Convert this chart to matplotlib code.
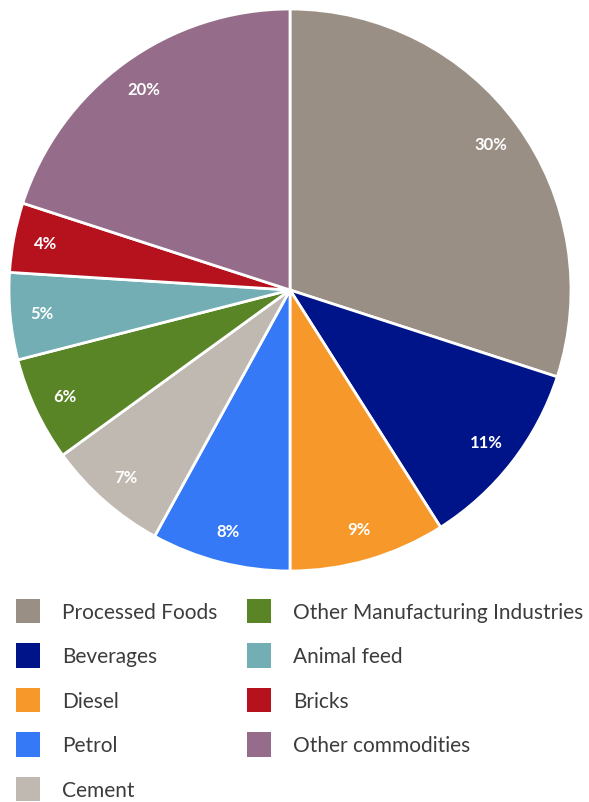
import matplotlib.pyplot as plt
from matplotlib import font_manager
from matplotlib.patches import Patch

categories = ['Processed Foods', 'Beverages', 'Diesel', 'Petrol', 'Cement',
              'Other Manufacturing Industries', 'Animal feed', 'Bricks',
              'Other commodities']
shares = [30, 11, 9, 8, 7, 6, 5, 4, 20]
colors = ['#9a8f85', '#00148a', '#f7992a', '#3579f6', '#bfb9b2',
          '#5a8527', '#74aeb5', '#b5121e', '#956d8b']

names = {f.name for f in font_manager.fontManager.ttflist}
plt.rcParams['font.family'] = ['Lato' if 'Lato' in names else 'DejaVu Sans', 'DejaVu Sans']

W, H = 589, 803
fig = plt.figure(figsize=(W / 100, H / 100), dpi=100)

# pie area: centre (290, 291) px, radius 281 px
cx, cy, r = 290, 291, 281
ax = fig.add_axes([(cx - r) / W, 1 - (cy + r) / H, 2 * r / W, 2 * r / H])
wedges, texts, autotexts = ax.pie(
    shares, colors=colors, startangle=90, counterclock=False,
    autopct='%d%%', pctdistance=0.885,
    wedgeprops=dict(edgecolor='white', linewidth=2),
    textprops=dict(color='white', fontsize=12, fontweight='bold'))
ax.set_xlim(-1, 1)
ax.set_ylim(-1, 1)
ax.set_aspect('equal')
ax.axis('off')

handles = [Patch(facecolor=c, edgecolor='none') for c in colors]
leg = fig.legend(handles, categories, ncol=2, loc='upper left',
                 bbox_to_anchor=(16 / W, 1 - 600 / H),
                 bbox_transform=fig.transFigure,
                 frameon=False, prop=dict(size=15),
                 borderpad=0, borderaxespad=0,
                 handlelength=1.15, handleheight=1.4, handletextpad=1.05,
                 labelspacing=0.98, columnspacing=1.45)
for t in leg.get_texts():
    t.set_color('#3c3c3c')

fig.savefig('out.png', dpi=100)
